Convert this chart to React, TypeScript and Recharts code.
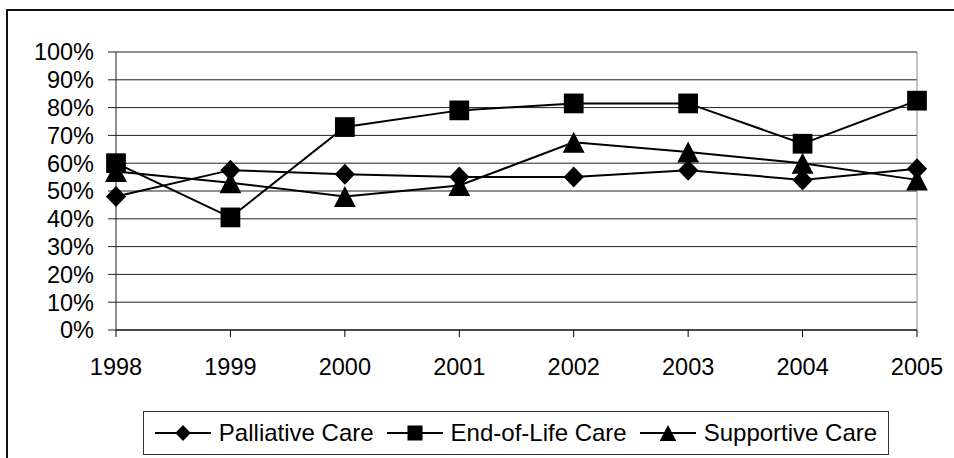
import React from 'react'
import { LineChart, Line, XAxis, YAxis, CartesianGrid, ReferenceLine } from 'recharts'

const years = ['1998', '1999', '2000', '2001', '2002', '2003', '2004', '2005']
const palliative = [48, 57.5, 56, 55, 55, 57.5, 54, 58]
const endOfLife = [60, 40.5, 73, 79, 81.5, 81.5, 67, 82.5]
const supportive = [57, 53, 48, 52, 67.5, 64, 60, 54]
const yTicks = [0, 10, 20, 30, 40, 50, 60, 70, 80, 90, 100]

type MarkerKind = 'diamond' | 'square' | 'triangle'

const seriesList: { key: string; name: string; marker: MarkerKind }[] = [
    { key: 'palliative', name: 'Palliative Care', marker: 'diamond' },
    { key: 'endOfLife', name: 'End-of-Life Care', marker: 'square' },
    { key: 'supportive', name: 'Supportive Care', marker: 'triangle' },
]

const data = years.map((year, i) => ({
    year,
    palliative: palliative[i],
    endOfLife: endOfLife[i],
    supportive: supportive[i],
}))

const FONT = '"Liberation Sans", Arial, sans-serif'

// s = marker box size in px
function markerPath(kind: MarkerKind, cx: number, cy: number, s: number) {
    if (kind === 'diamond') {
        const w = s * 0.48
        const h = s * 0.5
        return `M${cx},${cy - h} L${cx + w},${cy} L${cx},${cy + h} L${cx - w},${cy} Z`
    }
    if (kind === 'square') {
        const h = s * 0.47
        return `M${cx - h},${cy - h} H${cx + h} V${cy + h} H${cx - h} Z`
    }
    const w = s * 0.52
    const h = s / 2
    return `M${cx},${cy - h} L${cx + w},${cy + h} L${cx - w},${cy + h} Z`
}

const makeDot = (kind: MarkerKind) => (props: any) => {
    const { cx, cy, index } = props
    if (cx == null || cy == null) return <g key={`${kind}-${index}`} />
    return <path key={`${kind}-${index}`} d={markerPath(kind, cx, cy, 21)} fill="#000" stroke="none" />
}

function LegendBox() {
    return (
        <div
            style={{
                position: 'absolute',
                left: 143,
                top: 411,
                width: 746,
                height: 44,
                border: '1.5px solid #333',
                boxSizing: 'border-box',
                display: 'flex',
                alignItems: 'center',
                justifyContent: 'center',
                gap: 13,
                fontFamily: FONT,
                fontSize: 24,
                color: '#000',
                whiteSpace: 'nowrap',
            }}
        >
            {seriesList.map((s) => (
                <div key={s.key} style={{ display: 'flex', alignItems: 'center' }}>
                    <svg width={56} height={22} style={{ marginRight: 8 }}>
                        <line x1={0} y1={11} x2={56} y2={11} stroke="#000" strokeWidth={2} />
                        <path d={markerPath(s.marker, 28, 11, 16)} fill="#000" />
                    </svg>
                    <span>{s.name}</span>
                </div>
            ))}
        </div>
    )
}

export default function App() {
    return (
        <div style={{ position: 'fixed', left: 0, top: 0, width: 954, height: 458, overflow: 'hidden', background: '#fff' }}>
            <div
                style={{
                    position: 'absolute',
                    left: 6,
                    top: 9,
                    width: 980,
                    height: 480,
                    borderLeft: '2px solid #111',
                    borderTop: '2px solid #111',
                }}
            />
            <div style={{ position: 'absolute', left: 0, top: 0 }}>
                <LineChart width={954} height={458} data={data} margin={{ top: 52, right: 37, bottom: 88, left: 56 }}>
                    <CartesianGrid vertical={false} stroke="#222" strokeWidth={1} />
                    <ReferenceLine x="2005" stroke="#888" strokeWidth={1} />
                    <XAxis
                        dataKey="year"
                        stroke="#000"
                        tickSize={7}
                        tickMargin={21}
                        tick={{ fill: '#000', fontSize: 23.5, fontFamily: FONT }}
                        height={40}
                    />
                    <YAxis
                        domain={[0, 100]}
                        ticks={yTicks}
                        interval={0}
                        tickFormatter={(v: number) => `${v}%`}
                        stroke="#222"
                        tickSize={8}
                        tickMargin={14}
                        width={60}
                        tick={{ fill: '#000', fontSize: 23.5, fontFamily: FONT }}
                    />
                    {seriesList.map((s) => (
                        <Line
                            key={s.key}
                            type="linear"
                            dataKey={s.key}
                            name={s.name}
                            stroke="#000"
                            strokeWidth={2}
                            dot={makeDot(s.marker)}
                            activeDot={false}
                            isAnimationActive={false}
                        />
                    ))}
                </LineChart>
            </div>
            <LegendBox />
        </div>
    )
}
